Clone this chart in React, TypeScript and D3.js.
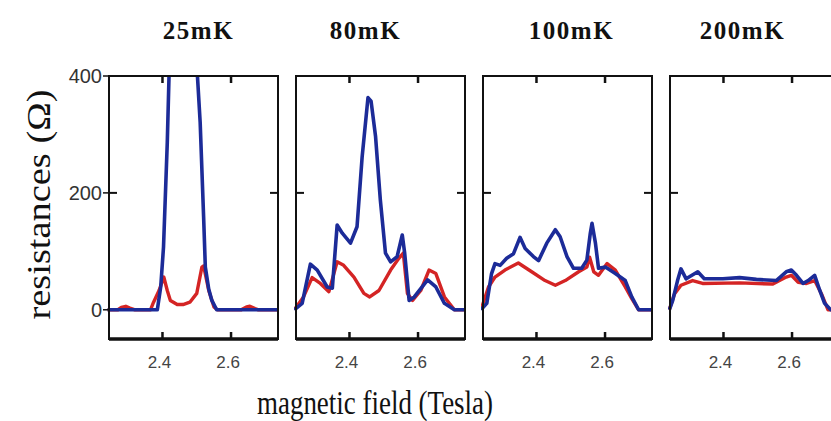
import React from "react";
import { scaleLinear, line, curveLinear } from "d3";

type Pt = [number, number];

const temperatures = ["25mK", "80mK", "100mK", "200mK"];
const fieldTicks = [2.4, 2.6];
const resistanceTicks = [0, 200, 400];
const innerTicks = [200];

// blue = upper trace, red = lower trace; [field (T), resistance (Ω)]
const blue25: Pt[] = [
  [2.24, 0], [2.385, 0], [2.395, 40], [2.403, 107], [2.414, 286], [2.42, 420],
  [2.43, 600], [2.46, 700], [2.49, 600], [2.5, 420], [2.51, 320], [2.52, 159],
  [2.525, 73], [2.535, 35], [2.544, 16], [2.558, 0], [2.74, 0],
];
const red25: Pt[] = [
  [2.24, 0], [2.27, 0], [2.28, 4], [2.293, 6], [2.305, 3], [2.32, 0], [2.365, 0],
  [2.374, 13], [2.39, 33], [2.404, 56], [2.414, 33], [2.423, 16], [2.443, 9],
  [2.46, 9], [2.48, 13], [2.5, 28], [2.515, 73], [2.52, 75], [2.535, 33],
  [2.55, 5], [2.56, 0], [2.63, 0], [2.645, 5], [2.655, 6], [2.67, 2], [2.68, 0],
  [2.74, 0],
];
const blue80: Pt[] = [
  [2.239, 0], [2.262, 11], [2.286, 78], [2.306, 68], [2.335, 39], [2.35, 37],
  [2.364, 145], [2.379, 131], [2.403, 114], [2.422, 142], [2.437, 262],
  [2.454, 363], [2.463, 357], [2.476, 297], [2.49, 188], [2.505, 97], [2.52, 82],
  [2.539, 91], [2.554, 128], [2.561, 97], [2.574, 16], [2.589, 22], [2.628, 51],
  [2.652, 39], [2.677, 11], [2.706, 0], [2.74, 0],
];
const red80: Pt[] = [
  [2.239, 0], [2.266, 22], [2.291, 55], [2.315, 45], [2.34, 31], [2.364, 82],
  [2.383, 76], [2.413, 56], [2.442, 28], [2.459, 22], [2.486, 33], [2.52, 68],
  [2.544, 88], [2.557, 97], [2.569, 28], [2.584, 16], [2.608, 33], [2.632, 68],
  [2.652, 62], [2.677, 22], [2.706, 0], [2.74, 0],
];
const blue100: Pt[] = [
  [2.238, 0], [2.255, 11], [2.269, 62], [2.279, 79], [2.294, 76], [2.313, 88],
  [2.333, 96], [2.352, 124], [2.367, 105], [2.391, 91], [2.406, 84], [2.43, 114],
  [2.455, 137], [2.469, 125], [2.489, 91], [2.508, 71], [2.532, 71], [2.547, 85],
  [2.557, 131], [2.562, 148], [2.572, 114], [2.581, 71], [2.601, 73], [2.63, 62],
  [2.659, 50], [2.678, 22], [2.698, 0], [2.74, 0],
];
const red100: Pt[] = [
  [2.238, 0], [2.26, 39], [2.279, 56], [2.308, 68], [2.347, 80], [2.386, 65],
  [2.425, 50], [2.455, 42], [2.484, 50], [2.523, 65], [2.547, 73], [2.555, 90],
  [2.567, 65], [2.581, 59], [2.606, 79], [2.63, 68], [2.659, 39], [2.678, 19],
  [2.698, 0], [2.74, 0],
];
const blue200: Pt[] = [
  [2.242, 0], [2.252, 16], [2.266, 50], [2.276, 70], [2.291, 53], [2.325, 65],
  [2.344, 53], [2.398, 53], [2.447, 55], [2.496, 52], [2.554, 50], [2.583, 65],
  [2.598, 68], [2.613, 59], [2.632, 45], [2.647, 50], [2.666, 59], [2.681, 33],
  [2.695, 11], [2.713, 0], [2.74, 0],
];
const red200: Pt[] = [
  [2.242, 0], [2.257, 27], [2.276, 42], [2.31, 50], [2.339, 45], [2.447, 46],
  [2.544, 44], [2.583, 56], [2.598, 59], [2.618, 47], [2.642, 45], [2.666, 50],
  [2.686, 27], [2.705, 0], [2.74, 0],
];

const blueSeries = [blue25, blue80, blue100, blue200];
const redSeries = [red25, red80, red100, red200];

const W = 831;
const H = 421;
const panelW = 169;
const top = 76;
const bottom = 339;
const titleDx = [5, -15, 4, -12];

export default function App() {
  const panelX = scaleLinear().domain([0, 1]).range([109, 296]);
  const x = scaleLinear().domain([2.244, 2.737]).range([0, panelW]);
  const y = scaleLinear().domain([-50, 400]).range([bottom, top]);
  const path = line<Pt>()
    .x((d) => x(d[0]))
    .y((d) => y(d[1]))
    .curve(curveLinear);

  return (
    <svg
      width={W}
      height={H}
      style={{ position: "absolute", left: 0, top: 0, background: "#fff" }}
    >
      <defs>
        <clipPath id="panel-clip">
          <rect x={-2} y={top} width={panelW + 2} height={bottom - top} />
        </clipPath>
      </defs>
      {temperatures.map((t, i) => (
        <g key={t} transform={`translate(${panelX(i)},0)`}>
          <text
            x={panelW / 2 + titleDx[i]}
            y={39}
            textAnchor="middle"
            fontFamily="Liberation Serif"
            fontWeight="bold"
            fontSize={25}
            letterSpacing={1.5}
            fill="#111"
          >
            {t}
          </text>
          <g clipPath="url(#panel-clip)">
            <path d={path(redSeries[i]) || ""} fill="none" stroke="#d42424" strokeWidth={3.4} strokeLinejoin="round" />
            <path d={path(blueSeries[i]) || ""} fill="none" stroke="#1c2b98" strokeWidth={3.6} strokeLinejoin="round" />
          </g>
          <rect x={0} y={top} width={panelW} height={bottom - top} fill="none" stroke="#111" strokeWidth={2} />
          <line x1={0} x2={panelW} y1={bottom} y2={bottom} stroke="#111" strokeWidth={3.5} />
          {fieldTicks.map((f) => (
            <g key={f}>
              <line x1={x(f)} x2={x(f)} y1={top} y2={top + 7} stroke="#111" strokeWidth={2.5} />
              <line x1={x(f)} x2={x(f)} y1={bottom} y2={bottom - 7} stroke="#111" strokeWidth={2.5} />
              <text
                x={x(f) - 3}
                y={368}
                textAnchor="middle"
                fontFamily="Liberation Sans"
                fontSize={17}
                fill="#444"
              >
                {f.toFixed(1)}
              </text>
            </g>
          ))}
          {innerTicks.map((r) => (
            <g key={r}>
              <line x1={0} x2={8} y1={y(r)} y2={y(r)} stroke="#111" strokeWidth={2} />
              <line x1={panelW} x2={panelW - 8} y1={y(r)} y2={y(r)} stroke="#111" strokeWidth={2} />
            </g>
          ))}
          {i === 0 &&
            resistanceTicks.map((r) => (
              <g key={r}>
                <line x1={-6} x2={0} y1={y(r)} y2={y(r)} stroke="#111" strokeWidth={1.5} />
                <text
                  x={-7}
                  y={y(r) + 7}
                  textAnchor="end"
                  fontFamily="Liberation Sans"
                  fontSize={20}
                  fill="#333"
                >
                  {r}
                </text>
              </g>
            ))}
        </g>
      ))}
      <text
        transform={`translate(50,${(top + bottom) / 2 - 3}) rotate(-90)`}
        textAnchor="middle"
        fontFamily="Liberation Serif"
        fontSize={34}
        textLength={230}
        lengthAdjust="spacingAndGlyphs"
        fill="#111"
      >
        resistances (Ω)
      </text>
      <text
        x={375}
        y={414}
        textAnchor="middle"
        fontFamily="Liberation Serif"
        fontSize={34}
        textLength={236}
        lengthAdjust="spacingAndGlyphs"
        fill="#111"
      >
        magnetic field (Tesla)
      </text>
    </svg>
  );
}
